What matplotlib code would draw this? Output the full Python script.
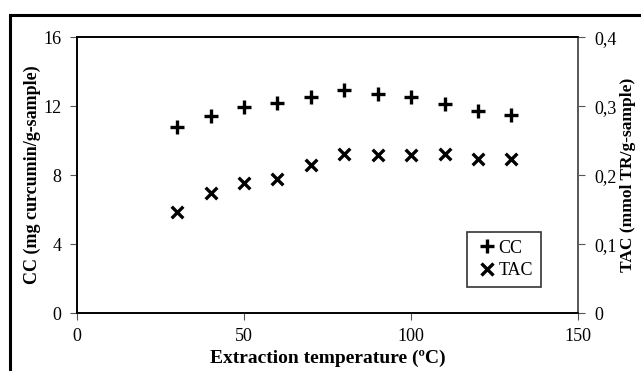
import matplotlib
matplotlib.use('Agg')
import matplotlib.pyplot as plt
from matplotlib.patches import Rectangle
from matplotlib.lines import Line2D

plt.rcParams['font.family'] = ['Liberation Serif', 'DejaVu Serif']

temperature = [30, 40, 50, 60, 70, 80, 90, 100, 110, 120, 130]
cc = [10.8, 11.45, 11.95, 12.2, 12.5, 12.95, 12.7, 12.5, 12.1, 11.7, 11.5]
tac = [0.146, 0.174, 0.188, 0.195, 0.215, 0.23, 0.229, 0.229, 0.23, 0.223, 0.223]

x_ticks = [0, 50, 100, 150]
cc_ticks = [0, 4, 8, 12, 16]
tac_ticks = [0, 0.1, 0.2, 0.3, 0.4]
tac_tick_labels = ['0', '0,1', '0,2', '0,3', '0,4']

fig = plt.figure(figsize=(6.41, 3.71), dpi=100)
ax = fig.add_axes([0.120, 0.156, 0.782, 0.744])
ax2 = ax.twinx()

ax.scatter(temperature, cc, marker='+', s=100, color='black', linewidths=2.4, zorder=3)
ax2.scatter(temperature, tac, marker='x', s=70, color='black', linewidths=2.4, zorder=3)

ax.set_xlim(0, 150)
ax.set_ylim(0, 16)
ax2.set_ylim(0, 0.4)
ax.set_xticks(x_ticks)
ax.set_yticks(cc_ticks)
ax2.set_yticks(tac_ticks)
ax2.set_yticklabels(tac_tick_labels)

for a in (ax, ax2):
    a.tick_params(labelsize=13, length=5, width=0.8, colors='#555555', labelcolor='black', pad=6)
    for s in a.spines.values():
        s.set_linewidth(1.2)
        s.set_color('black')
ax2.spines['right'].set_color('#666666')
ax2.tick_params(axis='y', pad=7)

ax.set_xlabel('Extraction temperature (ºC)', fontsize=14, fontweight='bold', labelpad=3)
ax.set_ylabel('CC (mg curcumin/g-sample)', fontsize=13, fontweight='bold', labelpad=2)
ax2.set_ylabel('TAC (mmol TR/g-sample)', fontsize=12.5, fontweight='bold', labelpad=2)

handles = [
    Line2D([], [], marker='+', linestyle='none', color='black', markersize=10, markeredgewidth=2.4),
    Line2D([], [], marker='x', linestyle='none', color='black', markersize=8, markeredgewidth=2.4),
]
leg = ax.legend(handles, ['CC', 'TAC'], loc='lower right', bbox_to_anchor=(0.926, 0.094),
                fontsize=13, frameon=True, fancybox=False, edgecolor='black',
                handlelength=1.3, handletextpad=0.0, borderpad=0.45, labelspacing=0.3,
                borderaxespad=0)
leg.get_frame().set_linewidth(1.2)

# outer frame of the picture
fig.patches.append(Rectangle((10 / 641, -0.1), 1.2, 1.1 - 15 / 371, transform=fig.transFigure,
                             fill=False, edgecolor='black', linewidth=2.2))

fig.savefig('out.png', dpi=100)
